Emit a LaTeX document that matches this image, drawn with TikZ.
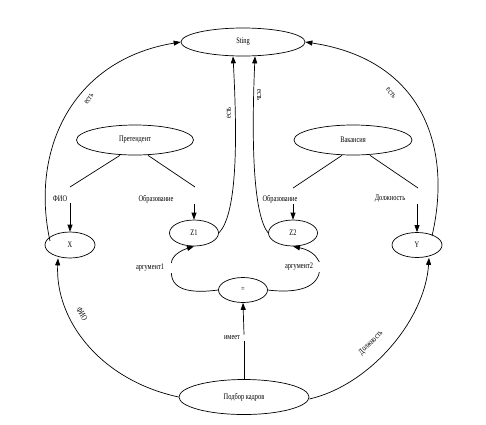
\documentclass[tikz,border=0pt]{standalone}
\usepackage{fontspec}
\setmainfont{Liberation Serif}
\newfontfamily\diagfont[FakeStretch=0.75]{Liberation Serif}
\usetikzlibrary{shapes.geometric,arrows.meta}

\begin{document}
\begin{tikzpicture}[x=1pt, y=-1pt, line width=0.7pt,
  ent/.style={ellipse, draw, inner sep=0pt,
              font=\diagfont\fontsize{8.5}{9}\selectfont},
  lbl/.style={inner sep=1pt, font=\diagfont\fontsize{8.5}{9}\selectfont},
  arr/.style={-{Triangle[length=7pt,width=5pt]}}]

  \useasboundingbox (0,0) rectangle (486,424);

  % entities
  \node[ent, minimum width=124pt, minimum height=28pt] (sting) at (243,42) {Sting};
  \node[ent, minimum width=117pt, minimum height=30pt] (pret) at (135,140) {Претендент};
  \node[ent, minimum width=118pt, minimum height=30pt] (vak) at (353,140) {Вакансия};
  \node[ent, minimum width=50pt, minimum height=26pt] (x) at (70,245) {X};
  \node[ent, minimum width=49pt, minimum height=26pt] (z1) at (194,233) {Z1};
  \node[ent, minimum width=49pt, minimum height=26pt] (z2) at (293,233) {Z2};
  \node[ent, minimum width=50pt, minimum height=25pt] (y) at (417,245) {Y};
  \node[ent, minimum width=49pt, minimum height=25pt] (eq) at (243,290) {=};
  \node[ent, minimum width=130pt, minimum height=35pt] (podbor) at (244,397) {Подбор кадров};

  % attribute labels
  \node[lbl] (fio) at (60,199) {ФИО};
  \node[lbl] (obr1) at (156,199) {Образование};
  \node[lbl] (obr2) at (280,199) {Образование};
  \node[lbl] (dolzh) at (390,199) {Должность};
  \node[lbl] (arg1) at (150,268) {аргумент1};
  \node[lbl] (arg2) at (299,267) {аргумент2};
  \node[lbl] (imeet) at (232,338) {имеет};

  % arc labels
  \node[lbl, rotate=55] (est1) at (89,99) {есть};
  \node[lbl, rotate=-50] (est2) at (391,93) {есть};
  \node[lbl, rotate=90] (est3) at (229,113) {есть};
  \node[lbl, rotate=-90] (est4) at (259,95) {есть};
  \node[lbl, rotate=-60] (fio2) at (82,314) {ФИО};
  \node[lbl, rotate=45] (dolzh2) at (371,343) {Должность};

  \coordinate (p1) at (70,187);
  \coordinate (p2) at (195,187);
  \coordinate (v1) at (293,188);
  \coordinate (v2) at (418,188);

  % attributes
  \draw ([xshift=-15pt]pret.south) -- (p1);
  \draw ([xshift=13pt]pret.south) -- (p2);
  \draw ([xshift=-11pt]vak.south) -- (v1);
  \draw ([xshift=17pt]vak.south) -- (v2);
  \draw[arr] (fio.south -| x.north) -- (x.north);
  \draw[arr] (obr1.south -| z1.north) -- (z1.north);
  \draw[arr] (obr2.south -| z2.north) -- (z2.north);
  \draw[arr] (dolzh.south -| y.north) -- (y.north);

  % is-a arcs
  \draw[arr] ([xshift=-20pt,yshift=4pt]x.center) .. controls (30,150) and (72,60) .. (sting.west);
  \draw[arr] ([xshift=15pt,yshift=9pt]y.center) .. controls (452,150) and (425,60) .. (sting.east);
  \draw[arr] (z1.east) .. controls (236,215) and (238,150) .. ([xshift=-10pt]sting.south);
  \draw[arr] (z2.west) .. controls (254,215) and (251,150) .. ([xshift=12pt]sting.south);

  % arguments of =
  \draw (eq.west) .. controls (195,293) and (172,292) .. ([xshift=6pt]arg1.south east);
  \draw[arr] ([xshift=6pt]arg1.north east) .. controls (172,255) and (182,250) .. (z1.south);
  \draw (eq.east) .. controls (292,293) and (316,290) .. ([xshift=5pt]arg2.south east);
  \draw[arr] ([xshift=5pt]arg2.north east) .. controls (316,255) and (310,250) .. (z2.south);

  % selection
  \draw (podbor.north) -- (podbor.north |- imeet.south);
  \draw[arr] (podbor.north |- imeet.north) -- (eq.south);
  \draw[arr] (podbor.west) .. controls (100,380) and (55,320) .. ([xshift=-12pt]x.south);
  \draw[arr] ([yshift=-2pt]podbor.east) .. controls (370,385) and (425,320) .. ([xshift=12pt]y.south);

\end{tikzpicture}
\end{document}
